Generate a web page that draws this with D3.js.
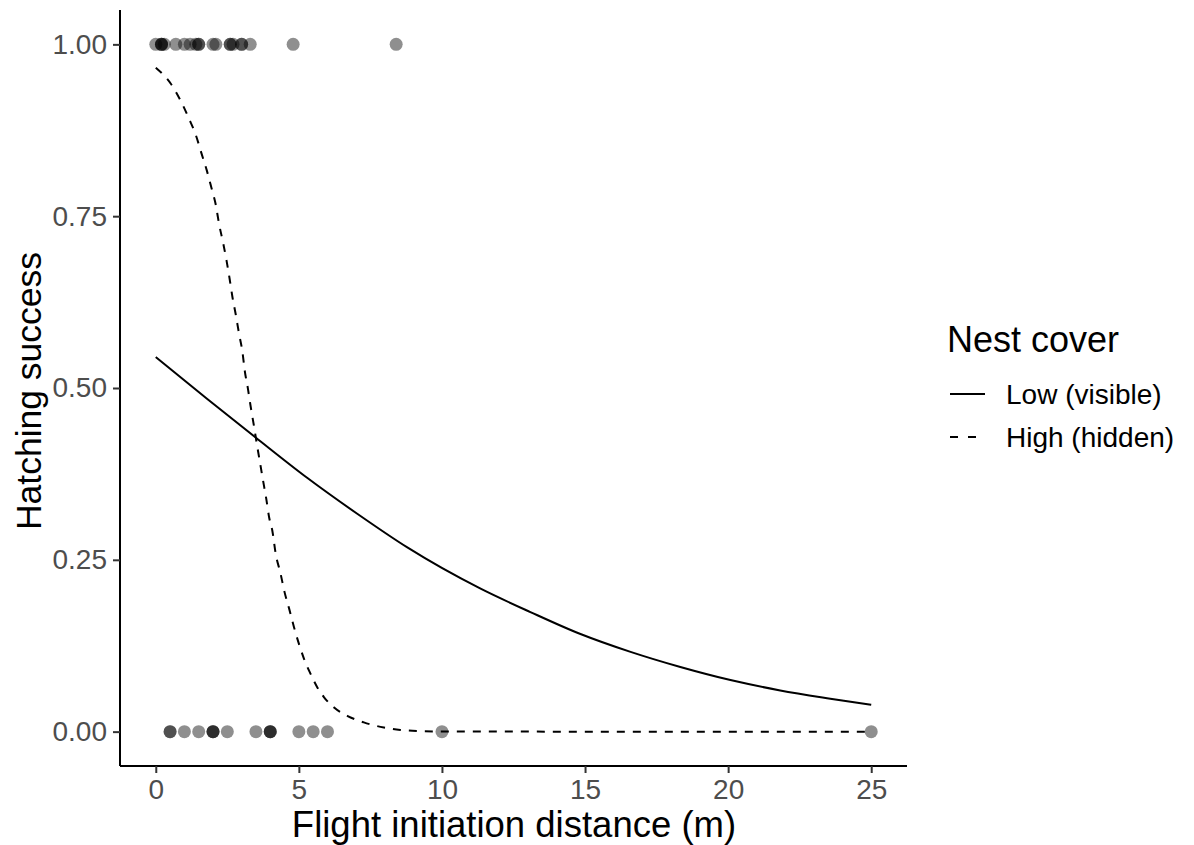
<!DOCTYPE html>
<html><head><meta charset="utf-8">
<script src="https://cdn.jsdelivr.net/npm/d3@7"></script>
<style>body{margin:0;background:#fff}svg{display:block}text{font-family:"Liberation Sans",Arial,sans-serif}</style>
</head><body><svg id="c" width="1194" height="845"></svg>
<script>
// Observed points
const successX = [0, 0.2, 0.2, 0.2, 0.3, 0.7, 1, 1.2, 1.4, 1.5, 1.5, 2, 2.1, 2.6, 2.6, 2.7, 3, 3, 3.3, 4.8, 8.4];
const failureX = [0.5, 0.5, 1, 1.5, 2, 2, 2, 2.5, 3.5, 4, 4, 4, 5, 5.5, 6, 10, 25];
// Fitted curve: Low (visible), solid
const lowX = [0, 1.8, 3.49, 5.3, 7.04, 8.79, 11.35, 13.09, 14.84, 16.59, 18.33, 20.08, 21.82, 23.57, 25];
const lowY = [0.545, 0.484, 0.428, 0.369, 0.317, 0.268, 0.208, 0.174, 0.142, 0.116, 0.094, 0.075, 0.060, 0.048, 0.039];
// High (hidden), dashed
const highX = [0, 0.52, 0.87, 1.16, 1.40, 1.6, 1.78, 1.94, 2.1, 2.21, 2.35, 2.47, 2.58, 2.68, 2.79, 2.91, 3.03, 3.11, 3.22, 3.32, 3.43, 3.53, 3.64, 3.75, 3.86, 3.96, 4.07, 4.19, 4.36, 4.5, 4.66, 4.83, 5.0, 5.18, 5.41, 5.65, 5.88, 6.23, 6.69, 7.27, 7.97, 8.55, 9.25, 10, 15, 20, 25];
const highY = [0.966, 0.943, 0.918, 0.892, 0.868, 0.841, 0.817, 0.792, 0.766, 0.739, 0.712, 0.686, 0.659, 0.632, 0.608, 0.579, 0.552, 0.525, 0.499, 0.472, 0.445, 0.419, 0.392, 0.365, 0.339, 0.312, 0.293, 0.259, 0.230, 0.203, 0.179, 0.152, 0.128, 0.106, 0.084, 0.064, 0.050, 0.035, 0.023, 0.0135, 0.006, 0.0025, 0.0008, 0.0002, 0, 0, 0];
const xTicks = [0, 5, 10, 15, 20, 25];
const yTicks = [0, 0.25, 0.5, 0.75, 1];
const legendLabels = ["Low (visible)", "High (hidden)"];

const svg = d3.select("#c");
const x = d3.scaleLinear().domain([-1.25, 26.25]).range([120, 907]);
const y = d3.scaleLinear().domain([-0.05, 1.05]).range([766, 10]);

// points
const pts = successX.map(v => [v, 1]).concat(failureX.map(v => [v, 0]));
svg.append("g").selectAll("circle").data(pts).join("circle")
  .attr("cx", d => x(d[0])).attr("cy", d => y(d[1])).attr("r", 6.5)
  .attr("fill", "#000").attr("fill-opacity", 0.44);

const line = d3.line().x(d => x(d[0])).y(d => y(d[1])).curve(d3.curveMonotoneX);
svg.append("path").datum(lowX.map((v, i) => [v, lowY[i]]))
  .attr("d", line).attr("fill", "none").attr("stroke", "#000").attr("stroke-width", 2);
svg.append("path").datum(highX.map((v, i) => [v, highY[i]]))
  .attr("d", line).attr("fill", "none").attr("stroke", "#000").attr("stroke-width", 2)
  .attr("stroke-dasharray", "8,8");

// axes
const xa = svg.append("g").attr("transform", "translate(0,766)")
  .call(d3.axisBottom(x).tickValues(xTicks).tickSize(7).tickPadding(6).tickFormat(d3.format("d")));
const ya = svg.append("g").attr("transform", "translate(120,0)")
  .call(d3.axisLeft(y).tickValues(yTicks).tickSize(7).tickPadding(6).tickFormat(d3.format(".2f")));
[xa, ya].forEach(g => {
  g.select(".domain").attr("stroke", "#000").attr("stroke-width", 2);
  g.selectAll(".tick line").attr("stroke", "#333").attr("stroke-width", 2);
  g.selectAll(".tick text").attr("fill", "#4d4d4d").style("font-size", "28px")
   .style("font-family", '"Liberation Sans",Arial,sans-serif');
});
ya.select(".domain").attr("d", "M0,766V10");
xa.select(".domain").attr("d", "M0,0H787").attr("transform", "translate(120,0)");

svg.append("text").attr("x", 514).attr("y", 837).attr("text-anchor", "middle")
  .style("font-size", "36.5px").text("Flight initiation distance (m)");
svg.append("text").attr("transform", "translate(41,391) rotate(-90)").attr("text-anchor", "middle")
  .style("font-size", "35.5px").text("Hatching success");

// legend
const lg = svg.append("g");
lg.append("text").attr("x", 947).attr("y", 352).style("font-size", "36px").text("Nest cover");
legendLabels.forEach((l, i) => {
  const yy = 394 + i * 43;
  lg.append("line").attr("x1", 950).attr("x2", 985).attr("y1", yy).attr("y2", yy)
    .attr("stroke", "#000").attr("stroke-width", 2).attr("stroke-dasharray", i ? "8,10" : null);
  lg.append("text").attr("x", 1006).attr("y", yy + 10).style("font-size", "28px").text(l);
});
</script></body></html>
